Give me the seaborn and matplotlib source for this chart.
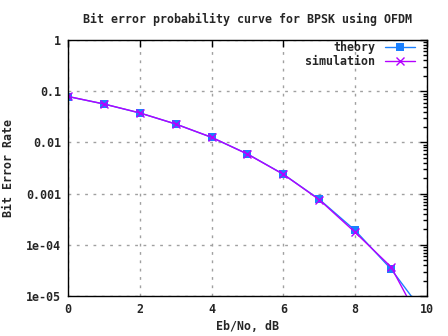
import matplotlib
matplotlib.use("Agg")
import matplotlib.pyplot as plt
import seaborn as sns
import pandas as pd
from matplotlib.ticker import LogLocator, NullFormatter, FixedLocator

ebno = [0, 1, 2, 3, 4, 5, 6, 7, 8, 9, 10]
theory = [0.0786, 0.0563, 0.0375, 0.0229, 0.0125, 0.00595, 0.00239, 0.000773, 0.000191, 3.36e-5, 3.87e-6]
simulation = [0.0790, 0.0562, 0.0377, 0.0228, 0.0126, 0.00590, 0.00238, 0.000760, 0.000175, 3.70e-5, 1.8e-6]
y_ticks = [1, 0.1, 0.01, 0.001, 1e-4, 1e-5]
y_labels = ["1", "0.1", "0.01", "0.001", "1e-04", "1e-05"]
x_ticks = [0, 2, 4, 6, 8, 10]

sns.set_style("white")
plt.rcParams['font.family'] = ['DejaVu Sans Mono']
plt.rcParams['font.weight'] = 'bold'
fs = 8.4

df = pd.DataFrame({"ebno": ebno * 2,
                   "ber": theory + simulation,
                   "series": ["theory"] * len(ebno) + ["simulation"] * len(ebno)})

fig = plt.figure(figsize=(4.48, 3.36), dpi=100)
ax = fig.add_axes([0.1518, 0.119, 0.953 - 0.1518, 0.762])

c_theory = "#1a80ff"
c_sim = "#b400ff"
sns.lineplot(data=df[df.series == "theory"], x="ebno", y="ber", ax=ax, color=c_theory,
             marker="s", markersize=6, markeredgewidth=0, markeredgecolor=c_theory,
             markerfacecolor=c_theory, linewidth=1, label="theory")
sns.lineplot(data=df[df.series == "simulation"], x="ebno", y="ber", ax=ax, color=c_sim,
             marker="x", markersize=6, markeredgewidth=1, markeredgecolor=c_sim,
             linewidth=1, label="simulation")

ax.set_yscale("log")
ax.set_xlim(0, 10)
ax.set_ylim(1e-5, 1)
ax.yaxis.set_major_locator(FixedLocator(y_ticks))
ax.set_yticklabels(y_labels, fontsize=fs, fontweight='bold')
ax.yaxis.set_minor_locator(LogLocator(base=10, subs=range(2, 10), numticks=20))
ax.yaxis.set_minor_formatter(NullFormatter())
ax.set_xticks(x_ticks)
ax.set_xticklabels([str(v) for v in x_ticks], fontsize=fs, fontweight='bold')
ax.tick_params(which='both', direction='in', top=True, right=True, color='black')
ax.tick_params(which='major', length=5, width=1, pad=5)
ax.tick_params(which='minor', length=3, width=1)
ax.grid(True, which='major', linestyle=(0, (2, 4)), color='#a0a0a0', linewidth=1)
for s in ax.spines.values():
    s.set_color('black')
    s.set_linewidth(1)

ax.set_xlabel("Eb/No, dB", fontsize=fs, fontweight='bold', labelpad=3)
ax.set_ylabel("Bit Error Rate", fontsize=fs, fontweight='bold', labelpad=8)
ax.set_title("Bit error probability curve for BPSK using OFDM", fontsize=fs, fontweight='bold', pad=12)

leg = ax.legend(loc='upper right', bbox_to_anchor=(0.98, 1.015), frameon=False, fontsize=fs,
                markerfirst=False, handlelength=2.6, borderaxespad=0.0, labelspacing=0.1,
                handletextpad=0.8)
for t in leg.get_texts():
    t.set_fontweight('bold')

fig.savefig("out.png", dpi=100)
